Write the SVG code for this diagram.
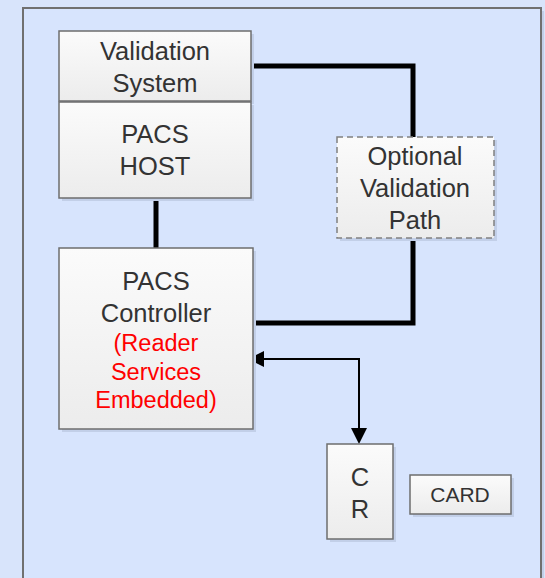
<svg xmlns="http://www.w3.org/2000/svg" width="545" height="578" viewBox="0 0 545 578">
  <defs>
    <linearGradient id="boxGrad" x1="0" y1="0" x2="0" y2="1">
      <stop offset="0" stop-color="#fbfbfb"/>
      <stop offset="1" stop-color="#ececec"/>
    </linearGradient>
  </defs>
  <style>
    .box { fill: url(#boxGrad); stroke: #6e6e6e; stroke-width: 1.5; }
    .shadow { fill: #c2cfe8; }
    .dashed { stroke-dasharray: 6 4; stroke: #808080; }
    .lbl { font-family: "Liberation Sans", Arial, sans-serif; font-size: 25.5px; fill: #333333; text-anchor: middle; }
    .red { fill: #ff0000; font-size: 23.5px; }
    .small { font-size: 21px; }
    .thick { fill: none; stroke: #000; stroke-width: 5; stroke-linejoin: miter; }
    .arrowhead { fill: #000; }
  </style>
  <rect x="0" y="0" width="545" height="578" fill="#d8e4fb"/>
  <rect x="26" y="11" width="518" height="600" fill="#c2cfe8"/>
  <rect x="23" y="8" width="518" height="600" fill="#d7e4fd" stroke="#707070" stroke-width="2"/>

  <g id="connectors">
    <path class="thick" d="M251,66 H413 V137"/>
    <path class="thick" d="M413,238 V323 H255"/>
    <path class="thick" d="M156,198 V248"/>
    <path d="M359,430 V359 H262" fill="none" stroke="#000" stroke-width="2"/>
    <path class="arrowhead" d="M248,359 L264,351 L264,367 z"/>
    <path class="arrowhead" d="M359,444 L351,428 L367,428 z"/>
  </g>

  <g id="validation-system">
    <rect class="shadow" x="62" y="34" width="192" height="70"/>
    <rect class="box" x="59" y="31" width="192" height="70"/>
    <text class="lbl" x="155" y="60">Validation</text>
    <text class="lbl" x="155" y="92">System</text>
  </g>

  <g id="pacs-host">
    <rect class="shadow" x="62" y="105" width="192" height="96"/>
    <rect class="box" x="59" y="102" width="192" height="96"/>
    <text class="lbl" x="155" y="143">PACS</text>
    <text class="lbl" x="155" y="175">HOST</text>
  </g>

  <g id="optional-validation-path">
    <rect class="shadow" x="340" y="140" width="157" height="101"/>
    <rect class="box dashed" x="337" y="137" width="157" height="101"/>
    <text class="lbl" x="415" y="165">Optional</text>
    <text class="lbl" x="415" y="197">Validation</text>
    <text class="lbl" x="415" y="229">Path</text>
  </g>

  <g id="pacs-controller">
    <rect class="shadow" x="62" y="251" width="194" height="181"/>
    <rect class="box" x="59" y="248" width="194" height="181"/>
    <text class="lbl" x="156" y="290">PACS</text>
    <text class="lbl" x="156" y="322">Controller</text>
    <text class="lbl red" x="156" y="351">(Reader</text>
    <text class="lbl red" x="156" y="380">Services</text>
    <text class="lbl red" x="156" y="408">Embedded)</text>
  </g>

  <g id="cr">
    <rect class="shadow" x="330" y="447" width="66" height="95"/>
    <rect class="box" x="327" y="444" width="66" height="95"/>
    <text class="lbl" x="360" y="486">C</text>
    <text class="lbl" x="360" y="518">R</text>
  </g>

  <g id="card">
    <rect class="shadow" x="413" y="478" width="101" height="39"/>
    <rect class="box" x="410" y="475" width="101" height="39"/>
    <text class="lbl small" x="460" y="502">CARD</text>
  </g>
</svg>
